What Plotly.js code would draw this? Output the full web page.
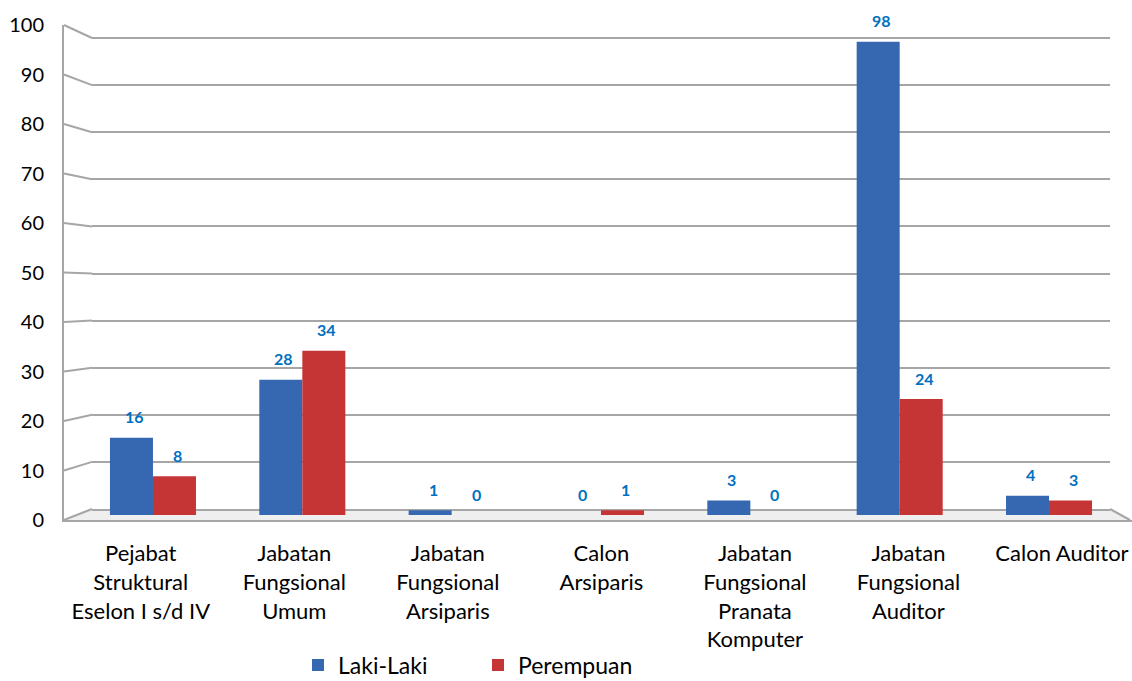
<!DOCTYPE html>
<html>
<head>
<meta charset="utf-8">
<script src="https://cdn.plot.ly/plotly-3.0.1.min.js"></script>
<style>html,body{margin:0;padding:0;background:#fff;}#chart{width:1132px;height:681px;}</style>
</head>
<body>
<div id="chart"></div>
<script>
// ---- data ----
const categories = [
  "Pejabat<br>Struktural<br>Eselon I s/d IV",
  "Jabatan<br>Fungsional<br>Umum",
  "Jabatan<br>Fungsional<br>Arsiparis",
  "Calon<br>Arsiparis",
  "Jabatan<br>Fungsional<br>Pranata<br>Komputer",
  "Jabatan<br>Fungsional<br>Auditor",
  "Calon Auditor"
];
const lakiLaki  = [16, 28, 1, 0, 3, 98, 4];
const perempuan = [8, 34, 0, 1, 0, 24, 3];
const seriesNames = ["Laki-Laki", "Perempuan"];
const yTicks = [0, 10, 20, 30, 40, 50, 60, 70, 80, 90, 100];

// ---- layout geometry (pixels) ----
const W = 1132, H = 681;
const fx = px => px / W;
const fy = px => 1 - px / H;
const GRID  = {left: 92, right: 1110, y0: 509, y100: 38};
const FRONT = {x: 64, y0: 520, y100: 25};
const BARS  = {left: 78.3, right: 1123.7, y0: 515, y100: 32};
const LINE = '#A6A6A6';
const idx = categories.map((c, i) => i);
const GRID_TOP = 101; // extend range slightly so the 100 gridline is drawn
const gridTopPx = GRID.y0 - (GRID.y0 - GRID.y100) * GRID_TOP / 100;

const traces = [
  {type: 'scatter', x: [], y: [], xaxis: 'x', yaxis: 'y', showlegend: false, hoverinfo: 'skip'},
  {type: 'scatter', x: [], y: [], xaxis: 'x2', yaxis: 'y2', showlegend: false, hoverinfo: 'skip'},
  {type: 'bar', name: seriesNames[0], x: idx, y: lakiLaki, xaxis: 'x3', yaxis: 'y3',
   marker: {color: '#3568B0'}, hoverinfo: 'x+y'},
  {type: 'bar', name: seriesNames[1], x: idx, y: perempuan, xaxis: 'x3', yaxis: 'y3',
   marker: {color: '#C63535'}, hoverinfo: 'x+y'}
];

// data labels anchored to bar tops via the bar axes
const annotations = [];
[lakiLaki, perempuan].forEach((arr, s) => {
  arr.forEach((v, i) => {
    annotations.push({
      xref: 'x3', yref: 'y3', x: i, y: v, text: String(v), showarrow: false,
      xshift: (s === 0 ? -21.5 : 21.5) + 3, yshift: 21,
      font: {family: 'Lato, sans-serif', size: 16, color: '#0070C0', weight: 'bold'}
    });
  });
});

// perspective connectors & floor
const shapes = [];
shapes.push({type: 'path', xref: 'paper', yref: 'paper', layer: 'below',
  path: `M ${fx(FRONT.x)},${fy(FRONT.y0)} L ${fx(1130)},${fy(FRONT.y0)} L ${fx(GRID.right)},${fy(GRID.y0)} L ${fx(GRID.left)},${fy(GRID.y0)} Z`,
  fillcolor: '#EFEFEF', line: {width: 0}});
yTicks.forEach(v => {
  const yf = FRONT.y0 - (FRONT.y0 - FRONT.y100) * v / 100;
  const yb = GRID.y0 - (GRID.y0 - GRID.y100) * v / 100;
  shapes.push({type: 'line', xref: 'paper', yref: 'paper', layer: 'below',
    x0: fx(FRONT.x), y0: fy(yf), x1: fx(GRID.left), y1: fy(yb),
    line: {color: LINE, width: 2}});
});
shapes.push({type: 'line', xref: 'paper', yref: 'paper', layer: 'below',
  x0: fx(GRID.right), y0: fy(GRID.y0), x1: fx(1130), y1: fy(FRONT.y0),
  line: {color: LINE, width: 2}});

const layout = {
  width: W, height: H,
  margin: {l: 0, r: 0, t: 0, b: 0, pad: 0, autoexpand: false},
  paper_bgcolor: '#FFFFFF', plot_bgcolor: 'rgba(0,0,0,0)',
  font: {family: 'Lato, sans-serif', color: '#000'},
  barmode: 'group', bargap: 0.424, bargroupgap: 0,
  showlegend: true,
  legend: {orientation: 'h', xref: 'container', yref: 'container',
           x: fx(298), xanchor: 'left', y: fy(665), yanchor: 'middle',
           font: {family: 'Lato, sans-serif', size: 23, color: '#000'},
           entrywidth: 135, entrywidthmode: 'pixels', bgcolor: 'rgba(0,0,0,0)'},
  // back wall grid
  xaxis: {domain: [fx(GRID.left), fx(GRID.right)], anchor: 'y', range: [0, 1],
          showticklabels: false, showgrid: false, zeroline: false, ticks: '',
          showline: true, linecolor: LINE, linewidth: 2, fixedrange: true},
  yaxis: {domain: [fy(GRID.y0), fy(gridTopPx)], anchor: 'x', range: [0, GRID_TOP], tickvals: yTicks,
          showticklabels: false, showgrid: true, gridcolor: LINE, gridwidth: 2,
          zeroline: false, showline: false, ticks: '', fixedrange: true},
  // front axis with labels
  xaxis2: {domain: [fx(FRONT.x), 1], anchor: 'y2', type: 'linear', range: [-0.5, 6.456],
           tickvals: idx, ticktext: categories, showgrid: false, zeroline: false, ticks: '',
           showline: true, linecolor: LINE, linewidth: 2, ticklabelstandoff: 13,
           tickfont: {family: 'Lato, sans-serif', size: 22, color: '#000'}, fixedrange: true},
  yaxis2: {domain: [fy(FRONT.y0), fy(FRONT.y100)], anchor: 'x2', range: [0, 100], tickvals: yTicks,
           showgrid: false, zeroline: false, ticks: '', showline: true, linecolor: LINE, linewidth: 2,
           ticklabelstandoff: 14,
           tickfont: {family: 'Lato, sans-serif', size: 20, color: '#000'}, fixedrange: true},
  // bars
  xaxis3: {domain: [fx(BARS.left), fx(BARS.right)], anchor: 'y3', type: 'linear', range: [-0.5, 6.5],
           visible: false, fixedrange: true},
  yaxis3: {domain: [fy(BARS.y0), fy(BARS.y100)], anchor: 'x3', range: [0, 100],
           visible: false, fixedrange: true},
  shapes: shapes,
  annotations: annotations
};

Plotly.newPlot('chart', traces, layout, {displayModeBar: false, staticPlot: true});
</script>
</body>
</html>
